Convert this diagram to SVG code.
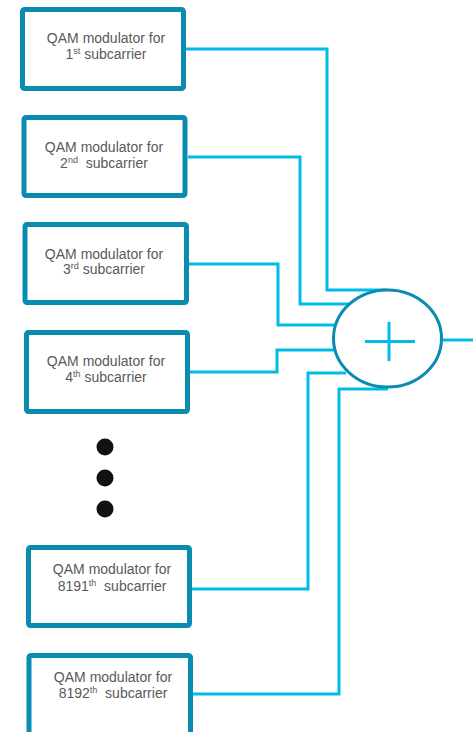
<svg xmlns="http://www.w3.org/2000/svg" width="473" height="732" viewBox="0 0 473 732">
<style>
.box{fill:#fff;stroke:#0A8BB1;stroke-width:5;}
.t{font-family:"Liberation Sans",Arial,sans-serif;font-size:14px;fill:#595959;text-anchor:middle;}
.sup{font-size:9px;}
.wire{fill:none;stroke:#00BAE8;stroke-width:3;}
.dot{fill:#111;}
</style>
<rect width="473" height="732" fill="#fff"/>
<g id="connectors">
<polyline class="wire" points="186,49 327,49 327,290 387,290"/>
<polyline class="wire" points="188,157 300,157 300,304 349,304"/>
<polyline class="wire" points="189,264 278,264 278,325 334,325"/>
<polyline class="wire" points="190,372 277,372 277,350 334,350"/>
<polyline class="wire" points="192,589 308,589 308,373 346,373"/>
<polyline class="wire" points="193,694 339,694 339,389 388,389"/>
<line class="wire" x1="443" y1="340" x2="473" y2="340"/>
</g>
<g id="box1">
<rect class="box" x="22.5" y="9.5" width="161" height="79" rx="2"/>
<text class="t" x="106" y="43">QAM modulator for</text>
<text class="t" x="106" y="58.5">1<tspan class="sup" dy="-5">st</tspan><tspan dy="5"> subcarrier</tspan></text>
</g>
<g id="box2">
<rect class="box" x="24" y="117.5" width="161" height="78" rx="2"/>
<text class="t" x="104" y="152">QAM modulator for</text>
<text class="t" x="104" y="168" xml:space="preserve">2<tspan class="sup" dy="-5">nd</tspan><tspan dy="5">  subcarrier</tspan></text>
</g>
<g id="box3">
<rect class="box" x="25" y="224.5" width="161.5" height="78" rx="2"/>
<text class="t" x="104" y="258.5">QAM modulator for</text>
<text class="t" x="104" y="274">3<tspan class="sup" dy="-5">rd</tspan><tspan dy="5"> subcarrier</tspan></text>
</g>
<g id="box4">
<rect class="box" x="26.5" y="332.5" width="161" height="79" rx="2"/>
<text class="t" x="106" y="366">QAM modulator for</text>
<text class="t" x="106" y="382">4<tspan class="sup" dy="-5">th</tspan><tspan dy="5"> subcarrier</tspan></text>
</g>
<g id="dots">
<circle class="dot" cx="105" cy="447" r="8.5"/>
<circle class="dot" cx="105" cy="478" r="8.5"/>
<circle class="dot" cx="105" cy="509" r="8.5"/>
</g>
<g id="box8191">
<rect class="box" x="28.5" y="547.5" width="161" height="78" rx="2"/>
<text class="t" x="112" y="574">QAM modulator for</text>
<text class="t" x="112" y="591" xml:space="preserve">8191<tspan class="sup" dy="-5">th</tspan><tspan dy="5">  subcarrier</tspan></text>
</g>
<g id="box8192">
<rect class="box" x="29" y="655.5" width="161.5" height="80" rx="2"/>
<text class="t" x="113" y="682">QAM modulator for</text>
<text class="t" x="113" y="698" xml:space="preserve">8192<tspan class="sup" dy="-5">th</tspan><tspan dy="5">  subcarrier</tspan></text>
</g>
<g id="adder">
<ellipse cx="387.5" cy="338.5" rx="54" ry="48.5" fill="#fff" stroke="#0A8BB1" stroke-width="3"/>
<line class="wire" x1="365" y1="341.5" x2="415" y2="341.5"/>
<line class="wire" x1="389" y1="322" x2="389" y2="361"/>
</g>
</svg>
